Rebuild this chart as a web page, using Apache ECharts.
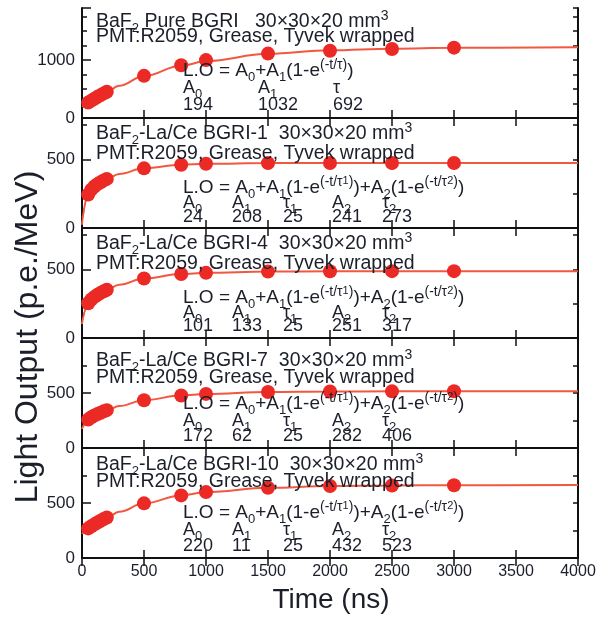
<!DOCTYPE html>
<html>
<head>
<meta charset="utf-8">
<script src="https://cdn.jsdelivr.net/npm/echarts@6/dist/echarts.min.js"></script>
<style>
  html, body { margin: 0; background: #fff; }
  #chart { width: 608px; height: 622px; }
</style>
</head>
<body>
<div id="chart"></div>
<script>
// measured times (ns) and fit-curve sample times
const timePoints = [50, 75, 100, 125, 150, 175, 200, 500, 800, 1000, 1500, 2000, 2500, 3000];
const fitTimes = [0, 5, 10, 20, 30, 50, 75, 100, 150, 200, 300, 500, 800, 1000, 1500, 2000, 2500, 3000, 4000];

// light output (p.e./MeV)
const pureValues = [266, 300, 333, 365, 395, 425, 453, 728, 912, 1000, 1112, 1162, 1192, 1215];
const bgri1Values = [244, 279, 302, 319, 333, 346, 357, 434, 460, 467, 472, 473, 473, 473];
const bgri4Values = [253, 280, 299, 315, 328, 340, 351, 433, 465, 474, 483, 485, 486, 486];
const bgri7Values = [258, 279, 295, 308, 321, 333, 344, 434, 477, 492, 509, 514, 515, 516];
const bgri10Values = [269, 288, 306, 323, 339, 354, 368, 497, 569, 599, 638, 654, 659, 662];

// fit curves
const pureFit = [194, 201, 209, 223, 238, 266, 300, 333, 395, 453, 557, 725, 901, 983, 1108, 1169, 1198, 1212, 1223];
const bgri1Fit = [24, 66, 101, 156, 194, 244, 279, 302, 333, 357, 393, 434, 460, 467, 472, 473, 473, 473, 473];
const bgri4Fit = [101, 129, 153, 190, 217, 253, 280, 299, 328, 351, 388, 433, 465, 474, 483, 485, 486, 486, 486];
const bgri7Fit = [172, 187, 199, 220, 235, 258, 279, 295, 321, 344, 381, 434, 477, 492, 509, 514, 515, 516, 516];
const bgri10Fit = [220, 226, 232, 242, 252, 269, 288, 306, 339, 368, 420, 497, 569, 599, 638, 654, 659, 662, 663];

// axis ranges
const xTicks = [0, 500, 1000, 1500, 2000, 2500, 3000, 3500, 4000];
const yMax = [1900, 800, 800, 1000, 1000];
const yMajor = [1000, 500, 500, 500, 500];

// panel texts
const panelTitles = [
  'BaF{sub|2} Pure BGRI   30×30×20 mm{sup|3}',
  'BaF{sub|2}-La/Ce BGRI-1  30×30×20 mm{sup|3}',
  'BaF{sub|2}-La/Ce BGRI-4  30×30×20 mm{sup|3}',
  'BaF{sub|2}-La/Ce BGRI-7  30×30×20 mm{sup|3}',
  'BaF{sub|2}-La/Ce BGRI-10  30×30×20 mm{sup|3}'
];
const setupText = 'PMT:R2059, Grease, Tyvek wrapped';
const formulaOne = 'L.O = A{sub|0}+A{sub|1}(1-e{sup|(-t/τ)})';
const formulaTwo = 'L.O = A{sub|0}+A{sub|1}(1-e{sup|(-t/τ}{ssub|1}{sup|)})+A{sub|2}(1-e{sup|(-t/τ}{ssub|2}{sup|)})';
const paramNamesOne = ['A{sub|0}', 'A{sub|1}', 'τ'];
const paramNamesTwo = ['A{sub|0}', 'A{sub|1}', 'τ{sub|1}', 'A{sub|2}', 'τ{sub|2}'];
const paramValues = [
  ['194', '1032', '692'],
  ['24', '208', '25', '241', '273'],
  ['101', '133', '25', '251', '317'],
  ['172', '62', '25', '282', '406'],
  ['220', '11', '25', '432', '523']
];

const pointSets = [pureValues, bgri1Values, bgri4Values, bgri7Values, bgri10Values];
const fitSets = [pureFit, bgri1Fit, bgri4Fit, bgri7Fit, bgri10Fit];

const FONT = '"Liberation Sans", Arial, Helvetica, sans-serif';
const INK = '#1b1f2a';
const DOT = '#eb2a26';
const CURVE = '#f1583f';

const gridLeft = 82, gridWidth = 496, gridTop0 = 8, panelH = 110;
// text rows (centre y) per panel: title, setup, formula, names, values
const textRows = [
  [22, 37, 71, 88, 105],
  [134, 154, 188, 203, 217],
  [244, 264, 298, 313, 326],
  [361, 378, 404, 421, 436],
  [465, 482, 513, 530, 546]
];
const colsOne = [183, 258, 333];
const colsTwo = [183, 232, 283, 332, 382];

function rich() {
  return {
    sub: { fontSize: 13, lineHeight: 8, verticalAlign: 'bottom', fill: INK, fontFamily: FONT },
    sup: { fontSize: 14, lineHeight: 12, verticalAlign: 'top', fill: INK, fontFamily: FONT },
    ssub: { fontSize: 11, lineHeight: 22, verticalAlign: 'top', fill: INK, fontFamily: FONT }
  };
}
function label(x, y, text, size) {
  return {
    type: 'text', x: x, y: y, z: 100,
    style: {
      text: text, fontSize: size, fontFamily: FONT, fill: INK,
      lineHeight: 26, align: 'left', verticalAlign: 'middle', rich: rich()
    }
  };
}

const grids = [], xAxes = [], yAxes = [], series = [], graphics = [];
const frame = { show: true, lineStyle: { color: '#111', width: 2 } };

for (let i = 0; i < 5; i++) {
  grids.push({ left: gridLeft, width: gridWidth, top: gridTop0 + i * panelH, height: panelH,
    containLabel: false, outerBoundsMode: 'none' });

  const last = i === 4;
  xAxes.push({
    gridIndex: i, type: 'value', min: 0, max: 4000, interval: 500, position: 'bottom',
    axisLine: frame, splitLine: { show: false },
    axisTick: { show: true, inside: true, length: 8, lineStyle: { color: '#111', width: 1.5 } },
    axisLabel: { show: last, fontSize: 16, color: INK, fontFamily: FONT, margin: 6,
      formatter: v => (xTicks.indexOf(v) >= 0 ? String(v) : '') }
  });
  xAxes.push({
    gridIndex: i, type: 'value', min: 0, max: 4000, interval: 500, position: 'top',
    axisLine: frame, splitLine: { show: false },
    axisTick: { show: true, inside: true, length: 8, lineStyle: { color: '#111', width: 1.5 } },
    axisLabel: { show: false }
  });

  const max = yMax[i];
  // left axis with labels and major ticks
  yAxes.push({
    gridIndex: i, type: 'value', min: 0, max: max, interval: yMajor[i], position: 'left',
    axisLine: frame, splitLine: { show: false },
    axisTick: { show: true, inside: true, length: 9, lineStyle: { color: '#111', width: 1.5 } },
    axisLabel: { fontSize: 17, color: INK, fontFamily: FONT, margin: 7,
      formatter: v => (v < max ? String(v) : '') }
  });
  // left minor ticks
  yAxes.push({
    gridIndex: i, type: 'value', min: 0, max: max, interval: 250, position: 'left',
    axisLine: { show: false }, splitLine: { show: false },
    axisTick: { show: true, inside: true, length: 5, lineStyle: { color: '#111', width: 1.5 } },
    axisLabel: { show: false }
  });
  // right mirror
  yAxes.push({
    gridIndex: i, type: 'value', min: 0, max: max, interval: 250, position: 'right',
    axisLine: frame, splitLine: { show: false },
    axisTick: { show: true, inside: true, length: 5, lineStyle: { color: '#111', width: 1.5 } },
    axisLabel: { show: false }
  });

  series.push({
    type: 'line', xAxisIndex: i * 2, yAxisIndex: i * 3, smooth: 0.4, smoothMonotone: 'x',
    showSymbol: false, lineStyle: { color: CURVE, width: 2 },
    data: fitTimes.map((t, k) => [t, fitSets[i][k]]), z: 2
  });
  series.push({
    type: 'scatter', xAxisIndex: i * 2, yAxisIndex: i * 3, symbol: 'circle', symbolSize: 14,
    itemStyle: { color: DOT, opacity: 1 },
    data: timePoints.map((t, k) => [t, pointSets[i][k]]), z: 3
  });

  const rows = textRows[i];
  graphics.push(label(96, rows[0], panelTitles[i], 19.5));
  graphics.push(label(96, rows[1], setupText, 19.5));
  graphics.push(label(183, rows[2], i === 0 ? formulaOne : formulaTwo, 19));
  const names = i === 0 ? paramNamesOne : paramNamesTwo;
  const cols = i === 0 ? colsOne : colsTwo;
  names.forEach((n, k) => {
    graphics.push(label(cols[k], rows[3], n, 18));
    graphics.push(label(cols[k], rows[4], paramValues[i][k], 18));
  });
}

graphics.push({
  type: 'text', x: 331, y: 600, z: 100,
  style: { text: 'Time (ns)', fontSize: 28, fontFamily: FONT, fill: INK, align: 'center', verticalAlign: 'middle' }
});
graphics.push({
  type: 'text', x: 28, y: 337, rotation: Math.PI / 2, z: 100,
  style: { text: 'Light Output (p.e./MeV)', fontSize: 32, fontFamily: FONT, fill: INK, align: 'center', verticalAlign: 'middle' }
});

const chart = echarts.init(document.getElementById('chart'));
chart.setOption({
  animation: false,
  backgroundColor: '#fff',
  textStyle: { fontFamily: FONT },
  grid: grids,
  xAxis: xAxes,
  yAxis: yAxes,
  series: series,
  graphic: graphics
});
</script>
</body>
</html>
